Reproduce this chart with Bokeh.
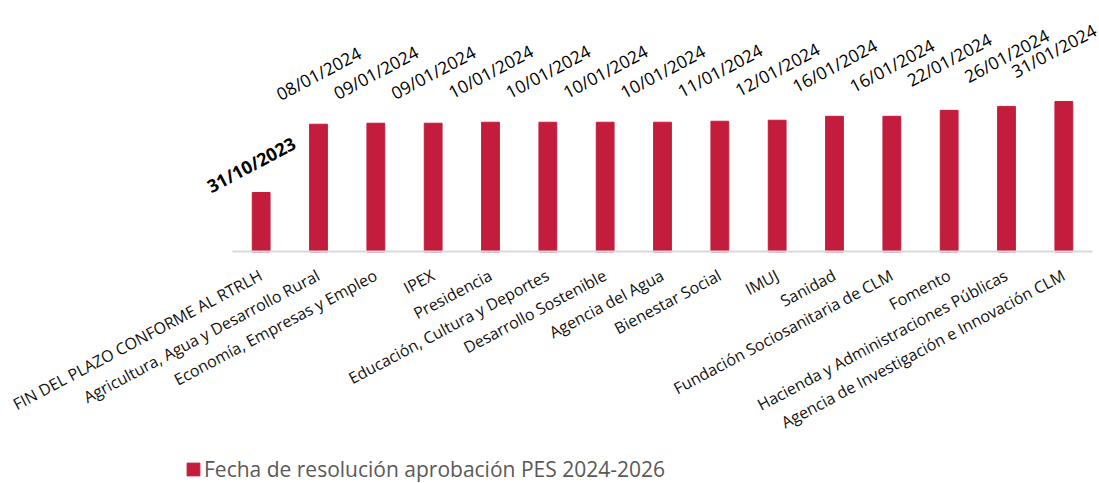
import math

import pandas as pd
from bokeh.plotting import figure
from bokeh.models import (ColumnDataSource, Range1d, FixedTicker,
                          Legend, LegendItem)
from bokeh.core.properties import value
from bokeh.embed import file_html
from bokeh.resources import INLINE

# ---------------- data ----------------
categories = [
    "FIN DEL PLAZO CONFORME AL RTRLH",
    "Agricultura, Agua y Desarrollo Rural",
    "Economía, Empresas y Empleo",
    "IPEX",
    "Presidencia",
    "Educación, Cultura y Deportes",
    "Desarrollo Sostenible",
    "Agencia del Agua",
    "Bienestar Social",
    "IMUJ",
    "Sanidad",
    "Fundación Sociosanitaria de CLM",
    "Fomento",
    "Hacienda y Administraciones Públicas",
    "Agencia de Investigación e Innovación CLM",
]
resolution_dates = [
    "2023-10-31", "2024-01-08", "2024-01-09", "2024-01-09", "2024-01-10",
    "2024-01-10", "2024-01-10", "2024-01-10", "2024-01-11", "2024-01-12",
    "2024-01-16", "2024-01-16", "2024-01-22", "2024-01-26", "2024-01-31",
]
series_name = "Fecha de resolución aprobación PES 2024-2026"
axis_base_date = "2023-09-01"     # value-axis origin (bars start here)
view_start_date = "2023-01-10"    # visible range below the origin (room for labels)
view_end_date = "2024-05-12"

# ---------------- prep ----------------
W, H = 1099, 483
N = len(categories)
idx = list(range(N))
dts = pd.to_datetime(resolution_dates)
date_labels = [d.strftime("%d/%m/%Y") for d in dts]
base = pd.Timestamp(axis_base_date)
base_ms = base.value / 1e6

src = ColumnDataSource(dict(
    x=idx,
    top=list(dts.to_pydatetime()),
    bottom=[base.to_pydatetime()] * N,
    lab=date_labels,
))


def sub(ids):
    return ColumnDataSource(dict(
        x=[idx[i] for i in ids],
        top=[dts[i].to_pydatetime() for i in ids],
        lab=[date_labels[i] for i in ids],
    ))


RED = "#C41C3C"

# plot area: categories occupy x = 232..1092 px
band = (1092 - 232) / N
x_lo = -0.5 - 232 / band
x_hi = x_lo + W / band

p = figure(
    width=W, height=H,
    x_range=Range1d(x_lo, x_hi),
    y_range=Range1d(pd.Timestamp(view_start_date).to_pydatetime(),
                    pd.Timestamp(view_end_date).to_pydatetime()),
    y_axis_type="datetime",
    output_backend="svg", toolbar_location=None,
    min_border=0,
)
p.outline_line_color = None
p.xgrid.visible = False
p.ygrid.visible = False
p.yaxis.visible = False
p.background_fill_color = "white"
p.border_fill_color = "white"

bars = p.vbar(x="x", top="top", bottom="bottom", width=0.31, source=src,
              fill_color=RED, line_color=RED, line_width=1)

ax = p.xaxis[0]
ax.fixed_location = base_ms
ax.bounds = (-0.5, N - 0.5)
ax.ticker = FixedTicker(ticks=idx)
ax.major_label_overrides = {i: c for i, c in zip(idx, categories)}
ax.axis_line_color = "#D9D9D9"
ax.axis_line_width = 2
ax.major_tick_line_color = None
ax.minor_tick_line_color = None
ax.major_label_orientation = math.radians(28)
ax.major_label_text_font = "Open Sans"
ax.major_label_text_font_size = "16px"
ax.major_label_text_color = "#111111"
ax.major_label_standoff = 16

ANG = math.radians(28)
common = dict(x="x", y="top", text="lab", angle=ANG, text_align="center",
              text_baseline="middle", text_font=value("Open Sans"),
              text_color="#000000")

p.text(source=sub([0]), x_offset=-10, y_offset=-28,
       text_font_size=value("18px"), text_font_style="bold", **common)
p.text(source=sub(list(range(1, N - 1))), x_offset=0, y_offset=-51,
       text_font_size=value("17.5px"), **common)
p.text(source=sub([N - 1]), x_offset=-10, y_offset=-51,
       text_font_size=value("17.5px"), **common)

legend = Legend(
    items=[LegendItem(label=series_name, renderers=[bars])],
    location=(185, 0),
    orientation="horizontal",
    padding=0, margin=0, spacing=0,
    glyph_width=16, glyph_height=16,
    label_standoff=3,
    label_text_font="Open Sans", label_text_font_size="21px",
    label_text_color="#595959",
    background_fill_alpha=0, border_line_color=None,
)
p.add_layout(legend)

open("out.html", "w").write(file_html(p, INLINE))
